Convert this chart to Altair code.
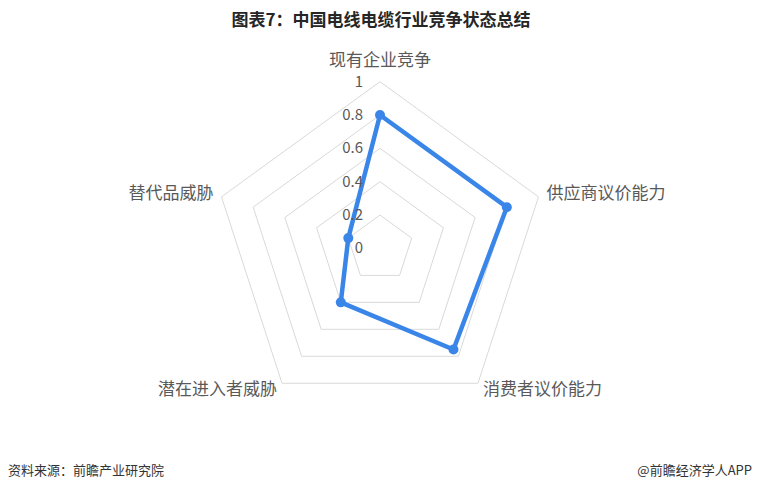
import altair as alt
import pandas as pd

# ---- data ----
title_text = "图表7：中国电线电缆行业竞争状态总结"
source_text = "资料来源：前瞻产业研究院"
brand_text = "@前瞻经济学人APP"
categories = ["现有企业竞争", "供应商议价能力", "消费者议价能力", "潜在进入者威胁", "替代品威胁"]
values = [0.8, 0.8, 0.75, 0.4, 0.2]
tick_values = [0, 0.2, 0.4, 0.6, 0.8, 1.0]
tick_labels = ["0", "0.2", "0.4", "0.6", "0.8", "1"]
ring_levels = [0.2, 0.4, 0.6, 0.8, 1.0]

# ---- tables built from the arrays ----
n = len(categories)
series_df = pd.DataFrame({
    "idx": list(range(n + 1)),
    "cat": categories + [categories[0]],
    "value": values + [values[0]],
})
point_df = pd.DataFrame({"idx": list(range(n)), "cat": categories, "value": values})
grid_df = pd.DataFrame(
    [{"ring": r, "idx": k} for r in ring_levels for k in range(n + 1)]
)
label_df = pd.DataFrame({"idx": list(range(n)), "cat": categories})
tick_df = pd.DataFrame({"v": tick_values, "label": tick_labels})

# ---- layout ----
W, H = 744, 477
PX = 166.7          # pixels per unit radius
CX, CY = 372, 240.4  # centre in view coordinates
FONT = "Noto Sans CJK SC"
LINE_COLOR = "#3a86e8"
GRID_COLOR = "#d9d9d9"
TEXT_COLOR = "#595959"

xs = alt.Scale(domain=[-CX / PX, (W - CX) / PX], nice=False, zero=False)
ys = alt.Scale(domain=[-(H - CY) / PX, CY / PX], nice=False, zero=False)
ANG = f"PI/2 - 2*PI*datum.idx/{n}"


def X():
    return alt.X("x:Q", scale=xs, axis=None)


def Y():
    return alt.Y("y:Q", scale=ys, axis=None)


grid = (
    alt.Chart(grid_df)
    .transform_calculate(x=f"datum.ring*cos({ANG})", y=f"datum.ring*sin({ANG})")
    .mark_line(color=GRID_COLOR, strokeWidth=1)
    .encode(x=X(), y=Y(), detail="ring:N", order="idx:Q")
)

line = (
    alt.Chart(series_df)
    .transform_calculate(x=f"datum.value*cos({ANG})", y=f"datum.value*sin({ANG})")
    .mark_line(color=LINE_COLOR, strokeWidth=4.5, strokeJoin="round")
    .encode(x=X(), y=Y(), order="idx:Q")
)

points = (
    alt.Chart(point_df)
    .transform_calculate(x=f"datum.value*cos({ANG})", y=f"datum.value*sin({ANG})")
    .mark_point(filled=True, color=LINE_COLOR, size=100, opacity=1)
    .encode(x=X(), y=Y(), tooltip=["cat:N", "value:Q"])
)

ticks = (
    alt.Chart(tick_df)
    .transform_calculate(x="0", y="datum.v")
    .mark_text(font=FONT, fontSize=15, color=TEXT_COLOR, align="right",
               baseline="middle", dx=-17)
    .encode(x=X(), y=Y(), text="label:N")
)

LR = 1.05
lab_base = alt.Chart(label_df).transform_calculate(
    x=f"{LR}*cos({ANG})", y=f"{LR}*sin({ANG})"
)
lab_top = lab_base.transform_filter("datum.idx == 0").mark_text(
    font=FONT, fontSize=17, color=TEXT_COLOR, align="center", baseline="middle", dy=-12
).encode(x=X(), y=Y(), text="cat:N")
lab_right = lab_base.transform_filter("datum.idx == 1 || datum.idx == 2").mark_text(
    font=FONT, fontSize=17, color=TEXT_COLOR, align="left", baseline="middle"
).encode(x=X(), y=Y(), text="cat:N")
lab_left = lab_base.transform_filter("datum.idx == 3 || datum.idx == 4").mark_text(
    font=FONT, fontSize=17, color=TEXT_COLOR, align="right", baseline="middle"
).encode(x=X(), y=Y(), text="cat:N")

title = alt.Chart(pd.DataFrame({"t": [title_text]})).mark_text(
    font=FONT, fontSize=17, fontWeight="bold", color="#262626",
    align="center", baseline="middle"
).encode(x=alt.value(CX + 1), y=alt.value(13), text="t:N")

src = alt.Chart(pd.DataFrame({"t": [source_text]})).mark_text(
    font=FONT, fontSize=13, color="#333333", align="left", baseline="middle"
).encode(x=alt.value(0), y=alt.value(463), text="t:N")

brand = alt.Chart(pd.DataFrame({"t": [brand_text]})).mark_text(
    font=FONT, fontSize=13, color="#333333", align="right", baseline="middle"
).encode(x=alt.value(W), y=alt.value(463), text="t:N")

chart = (
    alt.layer(grid, line, points, ticks, lab_top, lab_right, lab_left, title, src, brand)
    .properties(width=W, height=H, autosize=alt.AutoSizeParams(type="none"), padding=0,
                background="white")
    .configure_view(stroke=None)
)

chart.save("out.html", embed_options={"renderer": "svg", "actions": False})
